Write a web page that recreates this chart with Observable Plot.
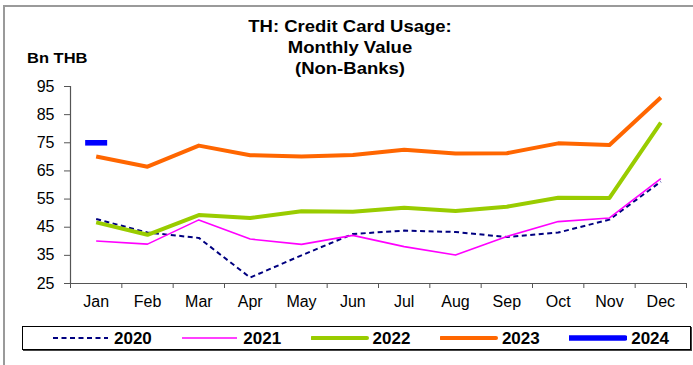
<!DOCTYPE html>
<html><head><meta charset="utf-8">
<script src="https://cdn.jsdelivr.net/npm/d3@7"></script>
<script src="https://cdn.jsdelivr.net/npm/@observablehq/plot@0.6"></script>
<style>
body{margin:0;background:#fff;font-family:"Liberation Sans",Arial,sans-serif;}
#wrap{position:relative;width:693px;height:365px;overflow:hidden;}
#frame{position:absolute;left:3px;top:5px;width:720px;height:400px;border-left:2px solid #9a9a9a;border-top:2px solid #9a9a9a;}
#title{position:absolute;left:0;top:16px;width:700px;text-align:center;font-weight:bold;font-size:18.5px;line-height:23px;color:#000;transform:scaleY(0.9);transform-origin:50% 0;}
#unit{position:absolute;left:27px;top:49px;font-weight:bold;font-size:16.5px;color:#000;transform:scaleY(0.9);transform-origin:0 0;}
#chart{position:absolute;left:0;top:0;}
#legend{position:absolute;left:22px;top:326px;width:667px;height:22px;border:1px solid #000;box-shadow:1px 1px 0 #444;}
.item{position:absolute;top:0;height:22px;}
.lab{position:absolute;top:2px;font-weight:bold;font-size:17px;color:#000;}
</style></head>
<body><div id="wrap">
<div id="frame"></div>
<div id="chart"></div>
<div id="title">TH: Credit Card Usage:<br>Monthly Value<br>(Non-Banks)</div>
<div id="unit">Bn THB</div>
<div id="legend"></div>
</div>
<script>
const months = ["Jan","Feb","Mar","Apr","May","Jun","Jul","Aug","Sep","Oct","Nov","Dec"];
const v2020 = [47.9,43.1,41.2,27.1,35.0,42.6,43.8,43.3,41.5,43.1,47.7,61.2];
const v2021 = [40.1,39.0,47.6,40.8,38.9,42.1,38.1,35.1,41.7,47.0,48.3,62.3];
const v2022 = [46.7,42.3,49.3,48.3,50.7,50.5,51.9,50.8,52.3,55.5,55.4,82.2];
const v2023 = [70.1,66.5,74.0,70.6,70.1,70.7,72.5,71.2,71.3,74.8,74.2,91.1];
const v2024 = [75.0];
const yTicks = [25,35,45,55,65,75,85,95];

const seriesNames = ["2020","2021","2022","2023","2024"];
const seriesValues = [v2020,v2021,v2022,v2023,v2024];
const styles = {
  "2020":{stroke:"#000080",strokeWidth:2,dash:"5,3.5"},
  "2021":{stroke:"#ff00ff",strokeWidth:1.6,dash:null},
  "2022":{stroke:"#99cc00",strokeWidth:4,dash:null},
  "2023":{stroke:"#ff6600",strokeWidth:4,dash:null},
  "2024":{stroke:"#0000ff",strokeWidth:5.5,dash:null}
};
const rows = seriesNames.flatMap((s,k)=>seriesValues[k].map((v,i)=>({series:s,month:months[i],i,value:v})));
const lineMarks = seriesNames.slice(0,4).map(s=>Plot.line(rows.filter(d=>d.series===s),{
  x:d=>d.i+0.5,y:"value",stroke:styles[s].stroke,strokeWidth:styles[s].strokeWidth,
  strokeDasharray:styles[s].dash,strokeLinejoin:"round",strokeLinecap:"butt"}));
const dashSymbol = {draw(ctx){ctx.moveTo(-11,-2.8);ctx.lineTo(11,-2.8);ctx.lineTo(11,2.8);ctx.lineTo(-11,2.8);ctx.closePath();}};

const plot = Plot.plot({
  width:693,height:365,
  marginLeft:70,marginRight:7,marginTop:86,marginBottom:82,
  style:{fontFamily:"Liberation Sans, Arial, sans-serif",fontSize:"16px",color:"#000",background:"transparent"},
  x:{domain:[0,months.length]},
  y:{domain:[25,95]},
  marks:[
    ...lineMarks,
    Plot.dot(rows.filter(d=>d.series==="2024"),{x:d=>d.i+0.5,y:"value",symbol:dashSymbol,fill:styles["2024"].stroke,stroke:"none",r:1}),
    Plot.ruleX([0],{stroke:"#555",strokeWidth:1.2}),
    Plot.ruleY([25],{stroke:"#555",strokeWidth:1.2}),
    Plot.axisY({ticks:yTicks,tickSize:6,tickPadding:10,tickFormat:d=>String(d),label:null,stroke:"#555",fontSize:16}),
    Plot.axisX({ticks:d3.range(months.length+1),tickSize:5,tickFormat:()=>"",label:null,stroke:"#555"}),
    Plot.axisX({ticks:d3.range(months.length).map(i=>i+0.5),tickSize:0,tickPadding:12,tickFormat:d=>months[Math.floor(d)],label:null,fontSize:16})
  ]
});
document.getElementById("chart").appendChild(plot);

const leg = document.getElementById("legend");
seriesNames.forEach((s,k)=>{
  const st = styles[s];
  const x0 = 29 + k*129.3;
  const it = document.createElement("div");
  it.className="item"; it.style.left = x0+"px";
  it.innerHTML = `<svg width="58" height="22" style="position:absolute;left:0;top:0"><line x1="1" x2="56" y1="11" y2="11" stroke="${st.stroke}" stroke-width="${st.strokeWidth}" ${st.dash?`stroke-dasharray="${st.dash}"`:""} stroke-linecap="${k>=2?"round":"butt"}"/></svg><span class="lab" style="left:62px">${s}</span>`;
  leg.appendChild(it);
});
</script>
</body></html>
